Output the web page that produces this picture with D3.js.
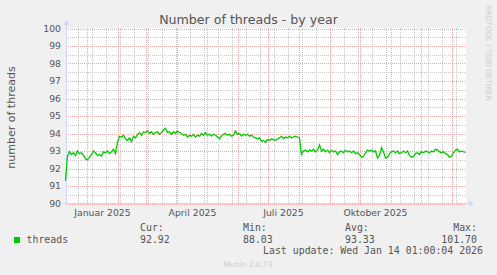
<!DOCTYPE html>
<html>
<head>
<meta charset="utf-8">
<script src="https://cdn.jsdelivr.net/npm/d3@7"></script>
<style>
  html, body { margin: 0; padding: 0; background: #f0f0f0; }
  svg { display: block; }
</style>
</head>
<body>
<div id="chart"></div>
<script>
// Munin "threads" yearly graph (one sample every 2 days)
var firstDay = new Date(2024, 11, 10, 1, 0, 4);
var lastUpdate = new Date(2026, 0, 14, 1, 0, 4);
var stepDays = 2;
var threads = [
  91.3, 92.7, 92.95, 92.8, 92.9, 92.75, 93.0, 92.85, 92.9, 92.75,
  92.55, 92.5, 92.65, 92.8, 93.0, 92.9, 92.75, 92.8, 92.7, 92.95,
  92.9, 93.0, 92.85, 92.95, 93.1, 92.85, 93.5, 93.85, 93.8, 93.9,
  93.7, 93.6, 93.75, 93.55, 93.85, 93.75, 93.95, 94.05, 93.9, 94.1,
  94.05, 94.15, 94.0, 94.1, 93.95, 94.05, 94.1, 93.95, 94.05, 94.2,
  94.3, 94.05, 94.1, 93.95, 94.1, 94.0, 94.15, 94.05, 94.0, 93.9,
  93.95, 93.8, 93.9, 93.85, 93.95, 93.8, 93.9, 93.85, 94.0, 93.9,
  94.05, 93.9, 93.95, 93.85, 93.95, 93.9, 93.8, 93.7, 93.85, 93.95,
  94.0, 93.9, 93.95, 93.85, 93.9, 94.15, 93.95, 94.0, 93.85, 93.95,
  93.9, 93.95, 93.85, 93.9, 93.8, 93.75, 93.7, 93.75, 93.55, 93.6,
  93.5, 93.65, 93.6, 93.7, 93.65, 93.6, 93.7, 93.75, 93.85, 93.7,
  93.8, 93.75, 93.85, 93.75, 93.8, 93.85, 93.8, 93.75, 92.8, 93.0,
  93.05, 92.95, 93.05, 93.0, 93.1, 92.95, 93.05, 93.35, 93.0, 93.1,
  92.95, 93.05, 92.9, 93.05, 92.95, 93.0, 92.8, 92.95, 93.0, 92.9,
  93.05, 92.95, 93.0, 92.9, 93.0, 92.85, 92.9, 92.8, 92.65, 92.7,
  92.9, 93.05, 93.0, 93.05, 92.95, 93.0, 92.6, 92.75, 93.2, 92.95,
  92.6, 92.65, 92.85, 92.95, 93.0, 92.9, 93.0, 92.85, 92.9, 93.0,
  92.9, 93.0, 92.75, 92.65, 92.7, 92.85, 92.9, 92.8, 92.95, 92.9,
  93.0, 92.95, 92.9, 93.0, 92.95, 93.1, 93.05, 92.95, 92.9, 92.95,
  92.85, 92.8, 92.65, 92.7, 92.9, 93.05, 93.1, 92.95, 93.0, 92.95,
  92.92
];
var yTicks = [90, 91, 92, 93, 94, 95, 96, 97, 98, 99, 100];
var xLabelMonths = [new Date(2025, 0, 1), new Date(2025, 3, 1), new Date(2025, 6, 1), new Date(2025, 9, 1)];
var legendHeads = ["Cur:", "Min:", "Avg:", "Max:"];
var legendValues = ["92.92", "88.03", "93.33", "101.70"];

var W = 497, H = 275;
var plot = {left: 66, top: 28, width: 400, height: 175};

var monthNames = ["Januar", "Februar", "März", "April", "Mai", "Juni", "Juli",
                  "August", "September", "Oktober", "November", "Dezember"];

var data = threads.map(function(v, i) {
  return {date: d3.timeDay.offset(firstDay, i * stepDays), value: v};
});

var svg = d3.select("#chart").append("svg")
  .attr("width", W)
  .attr("height", H)
  .style("font-family", "'DejaVu Sans', sans-serif");

svg.append("rect").attr("width", W).attr("height", H).attr("fill", "#f0f0f0");

var x = d3.scaleTime()
  .domain([firstDay, lastUpdate])
  .range([plot.left - 0.5, plot.left + plot.width - 0.5]);

var y = d3.scaleLinear()
  .domain([90, 100])
  .range([plot.top + plot.height + 0.5, plot.top + 0.5]);

// plot background
svg.append("rect")
  .attr("x", plot.left).attr("y", plot.top)
  .attr("width", plot.width).attr("height", plot.height + 1)
  .attr("fill", "#ffffff");

var grid = svg.append("g").attr("shape-rendering", "crispEdges");

// minor vertical grid: every second Monday
var mondays = d3.timeMonday.range(firstDay, lastUpdate).filter(function(d, i) { return i % 2 == 1; });
grid.selectAll(".vminor")
  .data(mondays)
  .enter().append("line")
    .attr("x1", function(d) { return Math.round(x(d)) + 0.5; })
    .attr("x2", function(d) { return Math.round(x(d)) + 0.5; })
    .attr("y1", plot.top).attr("y2", plot.top + plot.height)
    .attr("stroke", "#c8c8c8").attr("stroke-dasharray", "1,1");

// minor horizontal grid: half units
var halfTicks = d3.range(90.5, 100, 1);
grid.selectAll(".hminor")
  .data(halfTicks)
  .enter().append("line")
    .attr("x1", plot.left).attr("x2", plot.left + plot.width)
    .attr("y1", function(d) { return Math.round(y(d)) + 0.5; })
    .attr("y2", function(d) { return Math.round(y(d)) + 0.5; })
    .attr("stroke", "#c8c8c8").attr("stroke-dasharray", "1,1");

// major grid: month starts and integer values
var months = d3.timeMonth.range(d3.timeMonth.ceil(firstDay), lastUpdate);
grid.selectAll(".vmajor")
  .data(months)
  .enter().append("line")
    .attr("x1", function(d) { return Math.round(x(d)) + 0.5; })
    .attr("x2", function(d) { return Math.round(x(d)) + 0.5; })
    .attr("y1", plot.top).attr("y2", plot.top + plot.height)
    .attr("stroke", "#eeaaaa").attr("stroke-dasharray", "1,1");

grid.selectAll(".hmajor")
  .data(yTicks)
  .enter().append("line")
    .attr("x1", plot.left).attr("x2", plot.left + plot.width)
    .attr("y1", function(d) { return Math.round(y(d)) + 0.5; })
    .attr("y2", function(d) { return Math.round(y(d)) + 0.5; })
    .attr("stroke", "#eeaaaa").attr("stroke-dasharray", "1,1");

// axes with arrow heads
var axisColor = "#cfd6f8";
svg.append("line")
  .attr("x1", plot.left + 0.5).attr("x2", plot.left + 0.5)
  .attr("y1", plot.top - 4).attr("y2", plot.top + plot.height + 3)
  .attr("stroke", axisColor);
svg.append("line")
  .attr("x1", plot.left - 3).attr("x2", plot.left + plot.width + 4)
  .attr("y1", plot.top + plot.height + 0.5).attr("y2", plot.top + plot.height + 0.5)
  .attr("stroke", axisColor);
svg.append("path")
  .attr("d", "M" + (plot.left - 2.5) + "," + (plot.top - 3) + "L" + (plot.left + 0.5) + "," + (plot.top - 8) +
             "L" + (plot.left + 3.5) + "," + (plot.top - 3) + "Z")
  .attr("fill", axisColor);
svg.append("path")
  .attr("d", "M" + (plot.left + plot.width + 3) + "," + (plot.top + plot.height - 2.5) +
             "L" + (plot.left + plot.width + 8) + "," + (plot.top + plot.height + 0.5) +
             "L" + (plot.left + plot.width + 3) + "," + (plot.top + plot.height + 3.5) + "Z")
  .attr("fill", axisColor);

// the series
var line = d3.line()
  .x(function(d) { return x(d.date); })
  .y(function(d) { return y(d.value); });

svg.append("path")
  .datum(data)
  .attr("fill", "none")
  .attr("stroke", "#00cc00")
  .attr("stroke-width", 1.3)
  .attr("stroke-linejoin", "miter")
  .attr("d", line);

// y tick labels
svg.selectAll(".ylab")
  .data(yTicks)
  .enter().append("text")
    .attr("x", 61)
    .attr("y", function(d) { return y(d); })
    .attr("dy", "0.35em")
    .attr("text-anchor", "end")
    .attr("fill", "#555")
    .style("font-size", "9.3px")
    .text(function(d) { return d; });

// x labels, placed mid month like rrdtool does
svg.selectAll(".xlab")
  .data(xLabelMonths)
  .enter().append("text")
    .attr("x", function(d) { return x(d3.timeDay.offset(d, 15)); })
    .attr("y", 216)
    .attr("text-anchor", "middle")
    .attr("fill", "#555")
    .style("font-size", "9.3px")
    .text(function(d) { return monthNames[d.getMonth()] + " " + d.getFullYear(); });

// title and axis title
svg.append("text")
  .attr("x", W / 2).attr("y", 23.5)
  .attr("text-anchor", "middle")
  .attr("fill", "#555")
  .style("font-size", "12.6px")
  .text("Number of threads - by year");

svg.append("text")
  .attr("transform", "translate(15," + (plot.top + plot.height / 2 + 2) + ") rotate(-90)")
  .attr("text-anchor", "middle")
  .attr("fill", "#555")
  .style("font-size", "11px")
  .text("number of threads");

svg.append("text")
  .attr("transform", "translate(486,53) rotate(90)")
  .attr("text-anchor", "middle")
  .attr("fill", "#cccccc")
  .style("font-size", "7.4px")
  .text("RRDTOOL / TOBI OETIKER");

// legend
var mono = "'DejaVu Sans Mono', monospace";
var colX = [140, 243, 345, 477];
var colAnchor = ["start", "start", "start", "end"];

svg.append("rect")
  .attr("x", 14).attr("y", 237)
  .attr("width", 6).attr("height", 6)
  .attr("fill", "#00cc00");

svg.append("text")
  .attr("x", 26.5).attr("y", 242.5)
  .attr("fill", "#555")
  .style("font-family", mono).style("font-size", "9.9px")
  .text("threads");

legendHeads.forEach(function(h, i) {
  svg.append("text")
    .attr("x", colX[i]).attr("y", 231)
    .attr("text-anchor", colAnchor[i])
    .attr("fill", "#555")
    .style("font-family", mono).style("font-size", "9.9px")
    .text(h);
  svg.append("text")
    .attr("x", colX[i]).attr("y", 242.5)
    .attr("text-anchor", colAnchor[i])
    .attr("fill", "#555")
    .style("font-family", mono).style("font-size", "9.9px")
    .text(legendValues[i]);
});

svg.append("text")
  .attr("x", 483).attr("y", 254)
  .attr("text-anchor", "end")
  .attr("fill", "#555")
  .style("font-family", mono).style("font-size", "9.9px")
  .style("white-space", "pre")
  .text("Last update: Wed Jan 14 01:00:04 2026");

svg.append("text")
  .attr("x", 248).attr("y", 267)
  .attr("text-anchor", "middle")
  .attr("fill", "#cccccc")
  .style("font-size", "7.5px")
  .text("Munin 2.0.73");
</script>
</body>
</html>
